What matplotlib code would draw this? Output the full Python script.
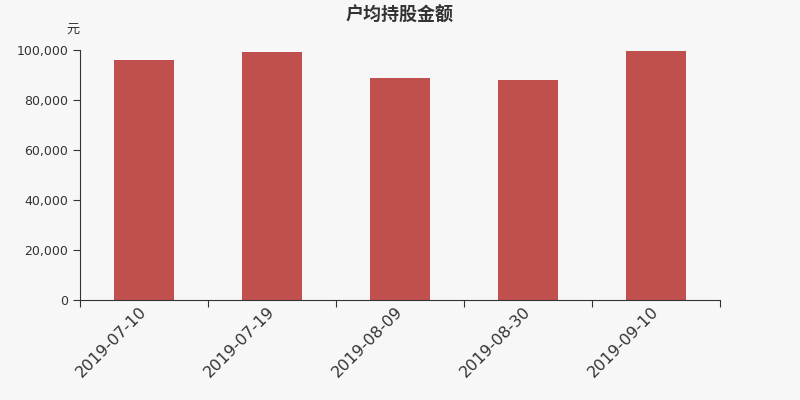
import matplotlib.pyplot as plt
from matplotlib.ticker import FuncFormatter

plt.rcParams['font.family'] = ['DejaVu Sans', 'Noto Sans CJK SC']

dates = ['2019-07-10', '2019-07-19', '2019-08-09', '2019-08-30', '2019-09-10']
amounts = [95900, 99200, 88900, 88000, 99800]

BG = '#f7f7f7'
BAR = '#c0504d'
TXT = '#333333'


def main():
    fig = plt.figure(figsize=(8, 4), dpi=100, facecolor=BG)
    ax = fig.add_axes([0.1, 0.25, 0.8, 0.625], facecolor=BG)

    x = list(range(len(dates)))
    ax.bar(x, amounts, width=0.47, color=BAR, zorder=2)

    ax.set_xlim(-0.5, len(dates) - 0.5)
    ax.set_ylim(0, 100000)

    # ticks between categories, labels at centers
    ax.set_xticks([i - 0.5 for i in range(len(dates) + 1)])
    ax.set_xticklabels([])
    ax.tick_params(axis='x', which='major', length=5, color=TXT)
    ax.set_xticks(x, minor=True)
    ax.set_xticklabels(dates, minor=True, rotation=45, ha='right', va='center',
                       rotation_mode='anchor', fontsize=11.5, color=TXT)
    ax.tick_params(axis='x', which='minor', length=0, pad=7)

    ax.set_yticks(range(0, 100001, 20000))
    ax.yaxis.set_major_formatter(FuncFormatter(lambda v, p: f'{int(v):,}'))
    ax.tick_params(axis='y', length=5, color=TXT, labelsize=9, labelcolor=TXT)

    for s in ['top', 'right']:
        ax.spines[s].set_visible(False)
    for s in ['left', 'bottom']:
        ax.spines[s].set_color(TXT)

    fig.text(0.5, 0.962, '户均持股金额', ha='center', va='center',
             fontsize=13, fontweight='bold', color=TXT)
    fig.text(0.1, 0.927, '元', ha='right', va='center', fontsize=9.5, color=TXT)

    fig.savefig('out.png', dpi=100, facecolor=BG)


if __name__ == '__main__':
    main()
